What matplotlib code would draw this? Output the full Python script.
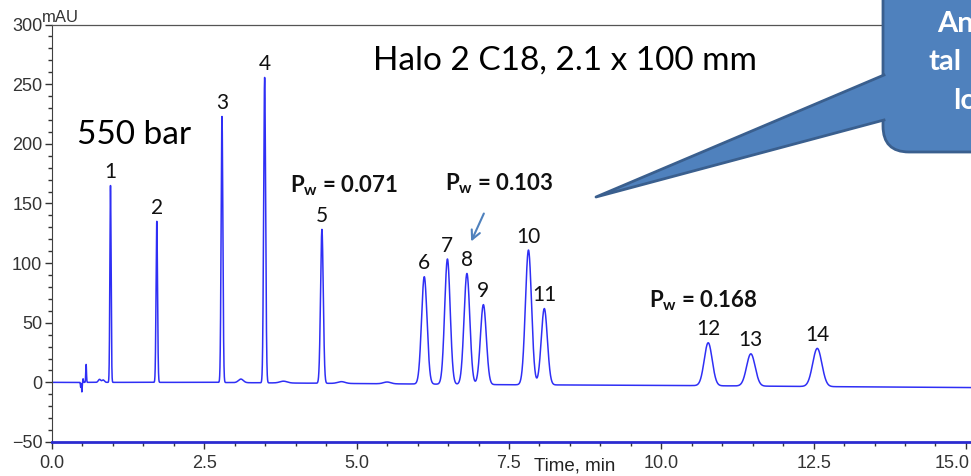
import numpy as np
import matplotlib
matplotlib.use('Agg')
import matplotlib.pyplot as plt
from matplotlib.patches import FancyBboxPatch, Polygon
from matplotlib.lines import Line2D
from matplotlib.transforms import IdentityTransform, ScaledTranslation
from matplotlib.ticker import MultipleLocator

# --- peak table (min, mAU above baseline, sigma in min) ---
peak_labels = ['1', '2', '3', '4', '5', '6', '7', '8', '9', '10', '11', '12', '13', '14']
peak_times = [0.96, 1.72, 2.79, 3.49, 4.43, 6.11, 6.49, 6.81, 7.08, 7.82, 8.08, 10.77, 11.47, 12.56]
peak_heights = [165, 135, 223, 256, 129, 90, 105, 93, 67, 113, 64, 36, 27, 32]
peak_sigmas = [0.010, 0.012, 0.014, 0.016, 0.022, 0.045, 0.045, 0.047, 0.048, 0.050, 0.050, 0.065, 0.070, 0.075]

# injection disturbance and small bumps
minor_times = [0.47, 0.49, 0.51, 0.56, 0.78, 0.84, 3.10, 3.80, 4.75, 5.50]
minor_heights = [-4, -8, 3, 15, 2.5, 2, 3, 1.5, 1.5, 1.5]
minor_sigmas = [0.004, 0.005, 0.004, 0.006, 0.02, 0.02, 0.04, 0.06, 0.06, 0.06]

# baseline drift
drift_times = [0.0, 2.5, 5.0, 7.5, 10.0, 12.5, 15.5]
drift_values = [0.0, 0.0, -1.0, -2.0, -2.5, -3.5, -4.5]

x_ticks = [0.0, 2.5, 5.0, 7.5, 10.0, 12.5, 15.0]
y_ticks = [-50, 0, 50, 100, 150, 200, 250, 300]

W, H = 971, 476
fig = plt.figure(figsize=(W / 100, H / 100), dpi=100)


def fx(px):
    return px / W


def fy(py):
    return 1 - py / H


ax = fig.add_axes([fx(52), fy(442), 944.4 / W, (442 - 24.5) / H])

t = np.linspace(0, 15.5, 40000)
signal = np.interp(t, drift_times, drift_values)
for tt, hh, ss in zip(peak_times + minor_times, peak_heights + minor_heights, peak_sigmas + minor_sigmas):
    signal = signal + hh * np.exp(-0.5 * ((t - tt) / ss) ** 2)

ax.plot(t, signal, color='#2f2ff5', lw=1.1)

# --- подписи пиков ---
for lab, tt in zip(peak_labels, peak_times):
    top = np.interp(tt, t, signal)
    ax.annotate(lab, xy=(tt, top), xytext=(0, 2.5), textcoords='offset points',
                ha='center', va='bottom', fontsize=15, family='Lato', color='#111111')

ax.set_xlim(0, 15.5)
ax.set_ylim(-50, 300)
ax.set_xticks(x_ticks)
ax.set_xticklabels([f'{v:.1f}' for v in x_ticks])
ax.set_yticks(y_ticks)
ax.xaxis.set_minor_locator(MultipleLocator(0.5))
ax.yaxis.set_minor_locator(MultipleLocator(10))
for lab in ax.get_xticklabels() + ax.get_yticklabels():
    lab.set_family('Liberation Sans')
ax.tick_params(axis='both', which='major', labelsize=13, colors='#333333', length=5, width=1)
ax.tick_params(axis='both', which='minor', length=3, width=1, colors='#333333')
ax.tick_params(axis='y', pad=2)
ax.tick_params(axis='x', pad=4)
# последняя подпись у края — прижать вправо, чтобы не обрезалась
last = ax.get_xticklabels()[-1]
last.set_horizontalalignment('right')
last.set_transform(last.get_transform() + ScaledTranslation(3 / 72, 0, fig.dpi_scale_trans))

ax.spines['right'].set_visible(False)
ax.spines['left'].set_color('#404040')
ax.spines['top'].set_color('#555555')
ax.spines['top'].set_linewidth(0.9)
ax.spines['bottom'].set_color('#2b2bd0')
ax.spines['bottom'].set_linewidth(2)

fig.text(fx(60), fy(17), 'mAU', ha='center', va='center', fontsize=12,
         family='Liberation Sans', color='#333333')
fig.text(fx(575), fy(466), 'Time, min', ha='center', va='center', fontsize=13.5,
         family='Liberation Sans', color='#222222')

fig.text(fx(134), fy(135), '550 bar', ha='center', va='center', fontsize=24, family='Lato')
fig.text(fx(565), fy(61), 'Halo 2 C18, 2.1 x 100 mm', ha='center', va='center',
         fontsize=24, family='Lato')

plt.rcParams['mathtext.fontset'] = 'custom'
plt.rcParams['mathtext.bf'] = 'Lato:bold'
plt.rcParams['mathtext.rm'] = 'Lato'
for txt, x0, yb in [('0.071', 290, 192), ('0.103', 445, 190), ('0.168', 649, 307)]:
    fig.text(fx(x0), fy(yb), r'$\mathbf{P_w}$ = ' + txt, ha='left', va='baseline',
             fontsize=16, family='Lato', fontweight='bold', color='#111111')

ax.annotate('', xy=(fx(470), fy(244)), xytext=(fx(485), fy(211)),
            xycoords='figure fraction', textcoords='figure fraction',
            arrowprops=dict(arrowstyle='->', color='#4f81bd', lw=1.5, mutation_scale=16))

# --- выноска справа сверху ---
fill_c = '#4f81bd'
edge_c = '#3a5f8e'
box = FancyBboxPatch((883, H - 152), 220, 260, boxstyle='round,pad=0,rounding_size=26',
                     transform=IdentityTransform(), facecolor=fill_c, edgecolor=edge_c,
                     lw=2, zorder=10)
fig.patches.append(box)
tail = Polygon([(883, H - 75), (596, H - 197), (883, H - 120), (900, H - 120), (900, H - 75)],
               closed=True, transform=IdentityTransform(), facecolor=fill_c,
               edgecolor='none', zorder=11)
fig.patches.append(tail)
fig.lines.append(Line2D([884, 596, 884], [H - 75, H - 197, H - 120], color=edge_c, lw=2,
                        solid_joinstyle='round', transform=IdentityTransform(), zorder=12))

for txt, x0, yc in [('An', 937, 24), ('tal', 928, 62), ('lo', 953, 101)]:
    fig.text(fx(x0), fy(yc), txt, ha='left', va='center', fontsize=21, family='Lato',
             fontweight='bold', color='white', zorder=13)

fig.savefig('out.png', dpi=100)
